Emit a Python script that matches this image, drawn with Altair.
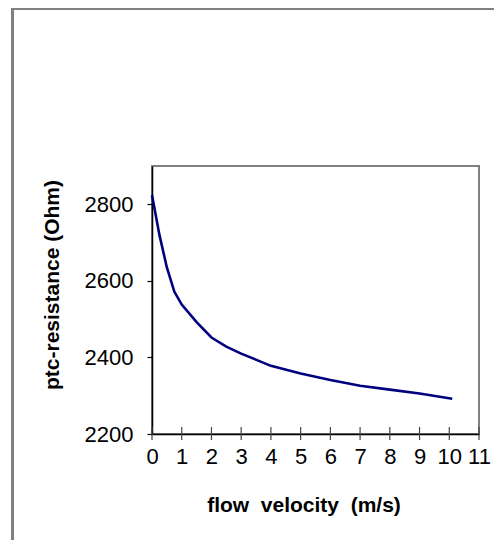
import altair as alt
import pandas as pd

velocity = [0, 0.25, 0.5, 0.75, 1.0, 1.5, 2.0, 2.5, 3.0, 4.0, 5.0, 6.0, 7.0, 8.0, 9.0, 10.1]
resistance = [2824, 2720, 2635, 2572, 2538, 2492, 2452, 2428, 2410, 2378, 2358, 2341, 2326, 2316, 2306, 2292]
x_ticks = [0, 1, 2, 3, 4, 5, 6, 7, 8, 9, 10, 11]
y_ticks = [2200, 2400, 2600, 2800]

W, H = 327, 268
FONT = "Liberation Sans"
LFS = 22
TFS = 21

df = pd.DataFrame({"v": velocity, "r": resistance})
tick_df = pd.DataFrame({"t": x_ticks})

xscale = alt.Scale(domain=[0, 11], nice=False, zero=False)
yscale = alt.Scale(domain=[2200, 2900], nice=False, zero=False)

x_axis = alt.Axis(values=x_ticks, format="d", title="flow\u00a0 velocity\u00a0 (m/s)",
                  tickSize=0, labelPadding=12, labelFontSize=LFS, labelFont=FONT,
                  labelColor="black", domainColor="black", domainWidth=1.5,
                  labelOverlap=False, labelSeparation=0,
                  titleFont=FONT, titleFontSize=TFS, titleFontWeight="bold",
                  titleColor="black", titleX=151.5, titleY=77,
                  titleBaseline="alphabetic", titleAlign="center",
                  grid=False, labelFlush=False)

line = alt.Chart(df).mark_line(color="#000080", strokeWidth=2.6, clip=False).encode(
    x=alt.X("v:Q", scale=xscale, axis=x_axis, title="flow\u00a0 velocity\u00a0 (m/s)"),
    y=alt.Y("r:Q", scale=yscale, title="ptc-resistance (Ohm)",
            axis=alt.Axis(values=y_ticks, format="d", title="ptc-resistance (Ohm)",
                          tickSize=5, tickColor="black", tickWidth=1.2,
                          labelPadding=14, labelFontSize=LFS, labelFont=FONT,
                          labelColor="black", domainColor="black", domainWidth=1.5,
                          labelOverlap=False,
                          titleFont=FONT, titleFontSize=TFS, titleFontWeight="bold",
                          titleColor="black", titleX=-94, titleY=118.5,
                          titleBaseline="alphabetic", titleAlign="center", titleAngle=270,
                          grid=False, labelFlush=False)),
)

ticks = alt.Chart(tick_df).mark_rule(color="#444444", strokeWidth=1.2).encode(
    x=alt.X("t:Q", scale=xscale, axis=x_axis, title="flow\u00a0 velocity\u00a0 (m/s)"),
    y=alt.value(H - 7),
    y2=alt.value(H + 6),
)

frame = alt.Chart(tick_df).mark_rect(
    fill=None, stroke="#808080", strokeWidth=2, clip=False
).encode(
    x=alt.value(-139.5), x2=alt.value(700),
    y=alt.value(-157), y2=alt.value(700),
)

chart = alt.layer(frame, line, ticks).properties(
    width=W, height=H,
    autosize=alt.AutoSizeParams(type="none"),
    padding={"left": 144, "top": 158, "right": 15, "bottom": 106},
    background="white",
).configure_view(stroke="#808080", strokeWidth=2).configure_axis(labelOverlap=False)

chart.save("out.html", embed_options={"renderer": "svg", "actions": False})
